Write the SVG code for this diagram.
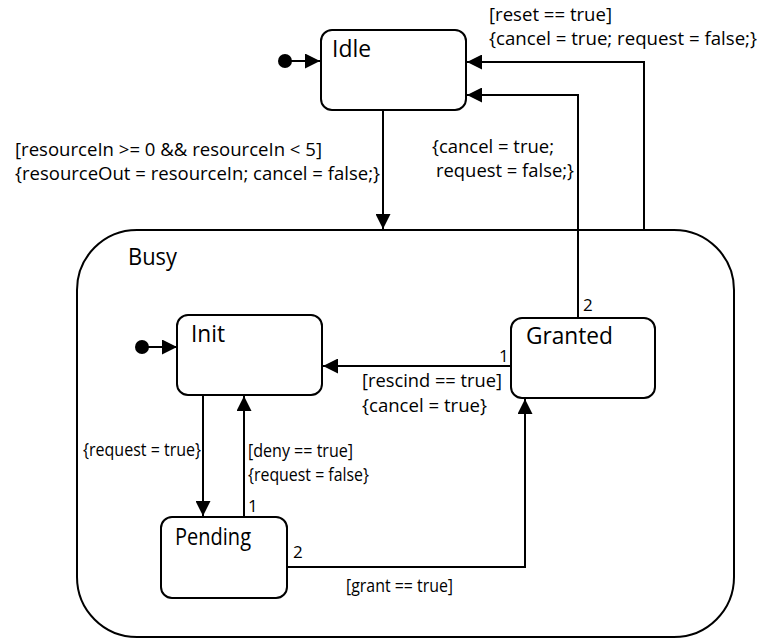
<svg xmlns="http://www.w3.org/2000/svg" width="758" height="641" viewBox="0 0 758 641">
  <defs>
    <marker id="arrow" markerUnits="userSpaceOnUse" markerWidth="15" markerHeight="15" refX="15" refY="7.5" orient="auto">
      <path d="M0,0 L15,7.5 L0,15 Z" fill="#000"/>
    </marker>
    <style>
      .state { fill: #fff; stroke: #000; stroke-width: 2; }
      .name { font-family: "Open Sans", Lato, sans-serif; font-size: 23px; fill: #000; }
      .lbl { font-family: "Open Sans", Lato, sans-serif; font-size: 18px; fill: #000; }
      .num { font-family: "Open Sans", Lato, sans-serif; font-size: 17px; fill: #000; }
      .edge { fill: none; stroke: #000; stroke-width: 2; marker-end: url(#arrow); }
      .dot { fill: #000; }
    </style>
  </defs>
  <rect width="758" height="641" fill="#fff"/>

  <!-- composite state -->
  <g id="busy">
    <rect class="state" x="77" y="230" width="657" height="407" rx="60" ry="60"/>
    <text class="name" x="128" y="265" textLength="49" lengthAdjust="spacingAndGlyphs">Busy</text>
  </g>

  <g id="idle">
    <rect class="state" x="321" y="30" width="145" height="80" rx="11" ry="11"/>
    <text class="name" x="332" y="57" textLength="39" lengthAdjust="spacingAndGlyphs">Idle</text>
  </g>

  <g id="init">
    <rect class="state" x="177" y="315" width="145" height="80" rx="11" ry="11"/>
    <text class="name" x="191" y="342" textLength="34" lengthAdjust="spacingAndGlyphs">Init</text>
  </g>

  <g id="granted">
    <rect class="state" x="511" y="318" width="144" height="80" rx="11" ry="11"/>
    <text class="name" x="526" y="344" textLength="87" lengthAdjust="spacingAndGlyphs">Granted</text>
  </g>

  <g id="pending">
    <rect class="state" x="161" y="517" width="126" height="81" rx="11" ry="11"/>
    <text class="name" x="175" y="545" textLength="76" lengthAdjust="spacingAndGlyphs">Pending</text>
  </g>

  <g id="connectors">
    <!-- initial pseudo-states -->
    <circle class="dot" cx="285" cy="61" r="7"/>
    <path class="edge" d="M285,61 H320"/>
    <circle class="dot" cx="142" cy="347" r="7"/>
    <path class="edge" d="M142,347 H177"/>

    <!-- Idle -> Busy -->
    <path class="edge" d="M383,110 V229"/>
    <!-- Busy -> Idle (reset) -->
    <path class="edge" d="M644,230 V62 H467"/>
    <!-- Granted -> Idle -->
    <path class="edge" d="M578,318 V95 H467"/>
    <!-- Granted -> Init -->
    <path class="edge" d="M511,366 H323"/>
    <!-- Init -> Pending -->
    <path class="edge" d="M203,395 V516"/>
    <!-- Pending -> Init -->
    <path class="edge" d="M244,517 V396"/>
    <!-- Pending -> Granted -->
    <path class="edge" d="M287,567 H525 V399"/>
  </g>

  <g id="labels">
    <text class="lbl" x="489" y="21" textLength="123" lengthAdjust="spacingAndGlyphs">[reset == true]</text>
    <text class="lbl" x="489" y="45" textLength="268" lengthAdjust="spacingAndGlyphs">{cancel = true; request = false;}</text>

    <text class="lbl" x="432" y="153" textLength="122" lengthAdjust="spacingAndGlyphs">{cancel = true;</text>
    <text class="lbl" x="436" y="177" textLength="138" lengthAdjust="spacingAndGlyphs">request = false;}</text>

    <text class="lbl" x="15" y="156" textLength="307" lengthAdjust="spacingAndGlyphs">[resourceIn &gt;= 0 &amp;&amp; resourceIn &lt; 5]</text>
    <text class="lbl" x="15" y="180" textLength="365" lengthAdjust="spacingAndGlyphs">{resourceOut = resourceIn; cancel = false;}</text>

    <text class="lbl" x="362" y="387" textLength="140" lengthAdjust="spacingAndGlyphs">[rescind == true]</text>
    <text class="lbl" x="362" y="412" textLength="125" lengthAdjust="spacingAndGlyphs">{cancel = true}</text>

    <text class="lbl" x="83" y="456" textLength="118" lengthAdjust="spacingAndGlyphs">{request = true}</text>

    <text class="lbl" x="248" y="457" textLength="105" lengthAdjust="spacingAndGlyphs">[deny == true]</text>
    <text class="lbl" x="248" y="481" textLength="121" lengthAdjust="spacingAndGlyphs">{request = false}</text>

    <text class="lbl" x="346" y="592" textLength="107" lengthAdjust="spacingAndGlyphs">[grant == true]</text>

    <text class="num" x="499" y="362">1</text>
    <text class="num" x="583" y="311">2</text>
    <text class="num" x="248" y="512">1</text>
    <text class="num" x="293" y="558">2</text>
  </g>
</svg>
